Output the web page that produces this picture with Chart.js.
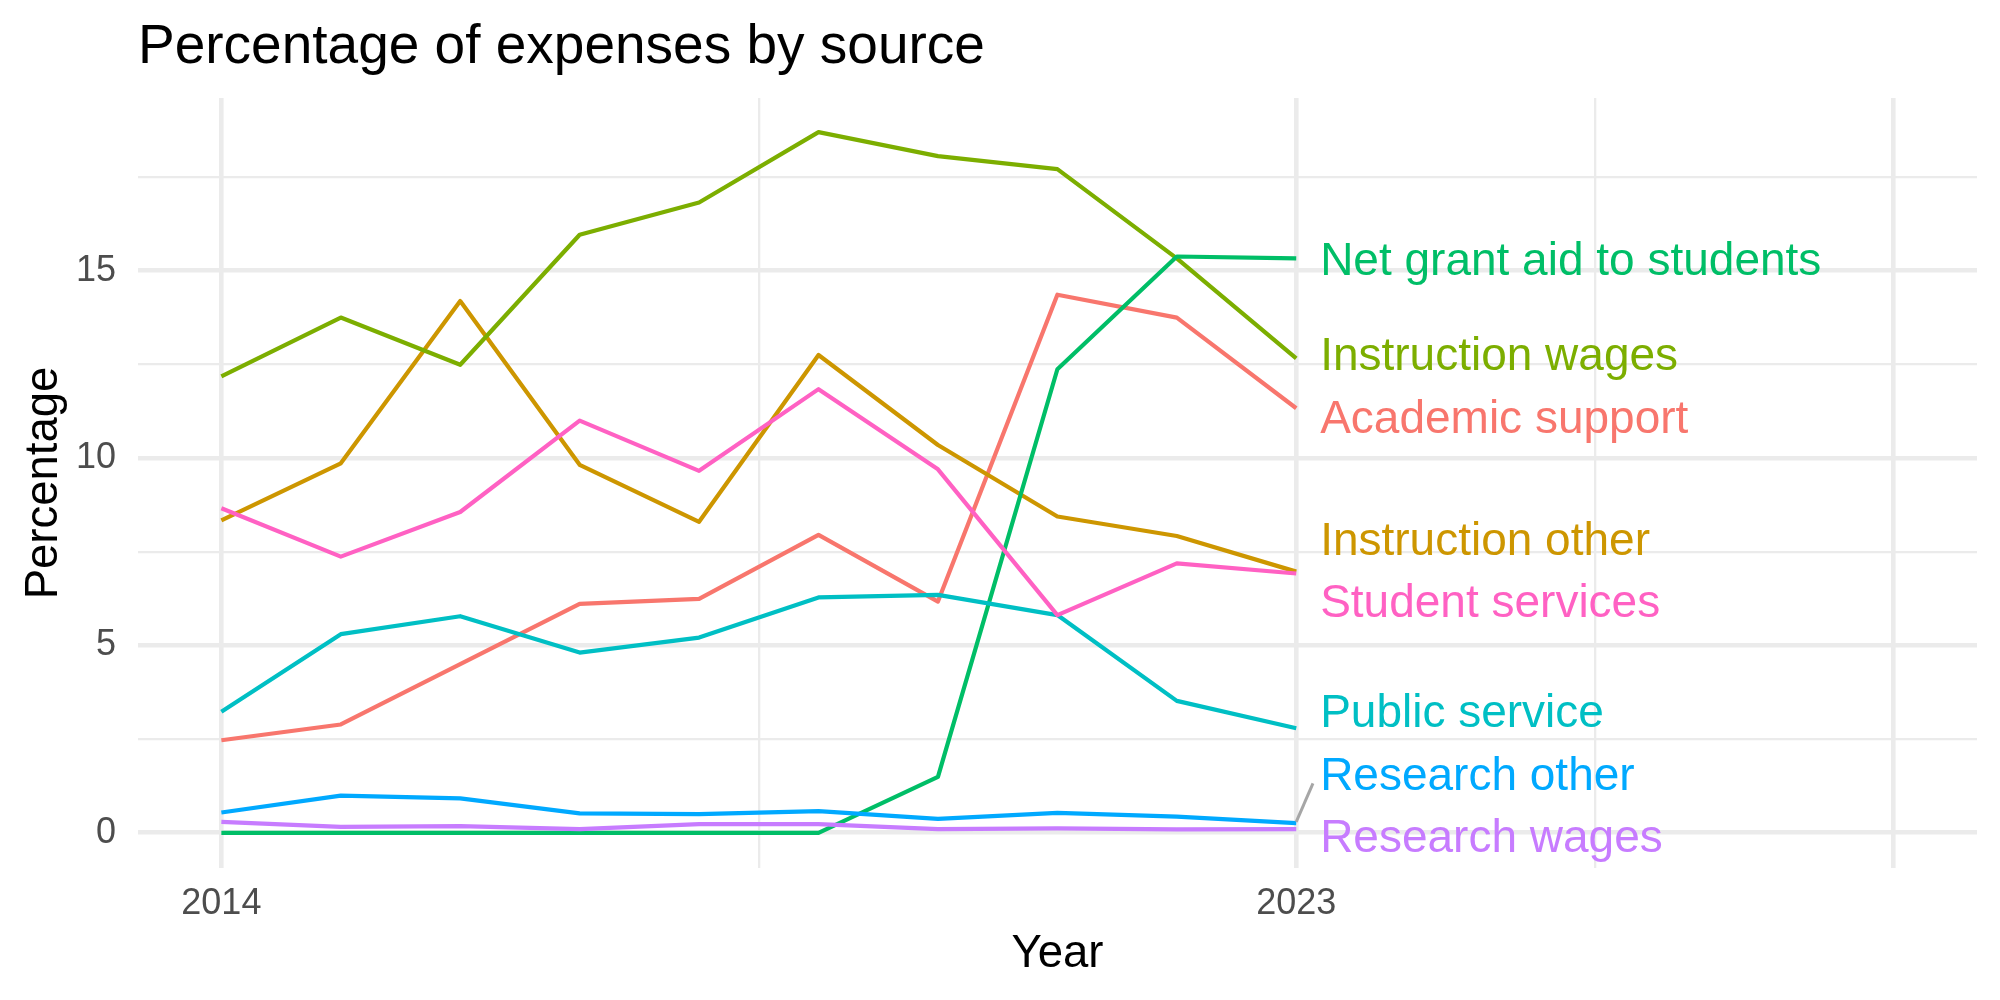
<!DOCTYPE html>
<html>
<head>
<meta charset="utf-8">
<script src="https://cdn.jsdelivr.net/npm/chart.js@4.4.1/dist/chart.umd.min.js"></script>
<style>
  html, body { margin: 0; padding: 0; background: #fff; }
  #wrap { width: 2000px; height: 1000px; position: relative; }
</style>
</head>
<body>
<div id="wrap"><canvas id="chart"></canvas></div>
<script>
// data
const years = [2014, 2015, 2016, 2017, 2018, 2019, 2020, 2021, 2022, 2023];
const seriesNames = ['Academic support', 'Instruction other', 'Instruction wages', 'Net grant aid to students',
                     'Public service', 'Research other', 'Research wages', 'Student services'];
const academicSupport  = [2.47, 2.89, 4.50, 6.11, 6.24, 7.95, 6.17, 14.36, 13.75, 11.33];
const instructionOther = [8.34, 9.86, 14.19, 9.82, 8.30, 12.75, 10.35, 8.44, 7.92, 6.97];
const instructionWages = [12.18, 13.75, 12.49, 15.96, 16.82, 18.70, 18.06, 17.71, 15.33, 12.66];
const netGrantAid      = [0, 0, 0, 0, 0, 0, 1.49, 12.37, 15.38, 15.33];
const publicService    = [3.23, 5.30, 5.78, 4.81, 5.21, 6.28, 6.35, 5.81, 3.52, 2.79];
const researchOther    = [0.54, 0.99, 0.92, 0.52, 0.50, 0.58, 0.37, 0.53, 0.43, 0.26];
const researchWages    = [0.29, 0.16, 0.18, 0.10, 0.23, 0.23, 0.10, 0.12, 0.09, 0.10];
const studentServices  = [8.66, 7.37, 8.56, 11.00, 9.66, 11.84, 9.70, 5.81, 7.19, 6.92];

const yTicks = [0, 2.5, 5, 7.5, 10, 12.5, 15, 17.5];
const xTicks = [2014, 2018.5, 2023, 2025.5, 2028];
const xLabels = [2014, 2023];

const allSeries = [academicSupport, instructionOther, instructionWages, netGrantAid,
                   publicService, researchOther, researchWages, studentServices];
const colors = ['#F8766D', '#CD9600', '#7CAE00', '#00BE67', '#00BFC4', '#00A9FF', '#C77CFF', '#FF61C3'];

// repel-style label placement (year, value of text middle)
const labelX = 2023.2;
const labelY = [11.01, 7.74, 12.70, 15.23, 3.17, 1.49, -0.18, 6.09];

const FONT = "'Liberation Sans', Arial, Helvetica, sans-serif";

const overlay = {
    id: 'overlay',
    afterDatasetsDraw(chart) {
        const { ctx, scales: { x, y } } = chart;
        ctx.save();
        // leader segment for Research other
        ctx.strokeStyle = '#A6A6A6';
        ctx.lineWidth = 3;
        ctx.beginPath();
        ctx.moveTo(x.getPixelForValue(2023), y.getPixelForValue(researchOther[9] + 0.03));
        ctx.lineTo(x.getPixelForValue(2023.14), y.getPixelForValue(1.32));
        ctx.stroke();

        ctx.font = `46px ${FONT}`;
        ctx.textAlign = 'left';
        ctx.textBaseline = 'middle';
        seriesNames.forEach((name, i) => {
            ctx.fillStyle = colors[i];
            ctx.fillText(name, x.getPixelForValue(labelX), y.getPixelForValue(labelY[i]));
        });
        ctx.restore();
    },
    afterDraw(chart) {
        const { ctx, chartArea } = chart;
        ctx.save();
        ctx.fillStyle = '#000';
        ctx.textBaseline = 'alphabetic';
        ctx.textAlign = 'left';
        ctx.font = `55px ${FONT}`;
        ctx.fillText('Percentage of expenses by source', 138, 63);

        ctx.font = `45.5px ${FONT}`;
        ctx.textAlign = 'center';
        ctx.fillText('Year', (chartArea.left + chartArea.right) / 2, 967);

        ctx.translate(57, (chartArea.top + chartArea.bottom) / 2);
        ctx.rotate(-Math.PI / 2);
        ctx.fillText('Percentage', 0, 0);
        ctx.restore();
    }
};

const datasets = seriesNames.map((name, i) => ({
    label: name,
    data: years.map((yr, j) => ({ x: yr, y: allSeries[i][j] })),
    borderColor: colors[i],
    backgroundColor: colors[i],
    borderWidth: 4.2,
    borderJoinStyle: 'round',
    pointRadius: 0,
    tension: 0,
    fill: false,
    order: seriesNames.length - i
}));

new Chart(document.getElementById('chart'), {
    type: 'line',
    data: { datasets },
    plugins: [overlay],
    options: {
        responsive: true,
        maintainAspectRatio: false,
        animation: false,
        events: [],
        layout: { padding: { left: 0, top: 98, right: 23, bottom: 0 } },
        plugins: { legend: { display: false }, tooltip: { enabled: false }, title: { display: false } },
        scales: {
            x: {
                type: 'linear',
                min: 2013.302,
                max: 2028.70,
                afterBuildTicks: (s) => { s.ticks = xTicks.map(v => ({ value: v })); },
                afterFit: (s) => { s.height = 132; },
                border: { display: false },
                grid: {
                    color: '#EBEBEB',
                    drawTicks: false,
                    lineWidth: (c) => (c.tick && c.tick.value % 1 === 0.5) ? 2.3 : 4.6
                },
                ticks: {
                    autoSkip: false,
                    maxRotation: 0,
                    padding: 14,
                    color: '#4D4D4D',
                    font: { family: FONT, size: 36 },
                    callback: (v) => xLabels.includes(v) ? String(v) : ''
                }
            },
            y: {
                type: 'linear',
                min: -0.94,
                max: 19.61,
                afterBuildTicks: (s) => { s.ticks = yTicks.map(v => ({ value: v })); },
                afterFit: (s) => { s.width = 138; },
                border: { display: false },
                grid: {
                    color: '#EBEBEB',
                    drawTicks: false,
                    lineWidth: (c) => (c.tick && c.tick.value % 5 !== 0) ? 2.3 : 4.6
                },
                ticks: {
                    padding: 22,
                    color: '#4D4D4D',
                    font: { family: FONT, size: 36 },
                    callback: (v) => v % 5 === 0 ? String(v) : ''
                }
            }
        }
    }
});
</script>
</body>
</html>
